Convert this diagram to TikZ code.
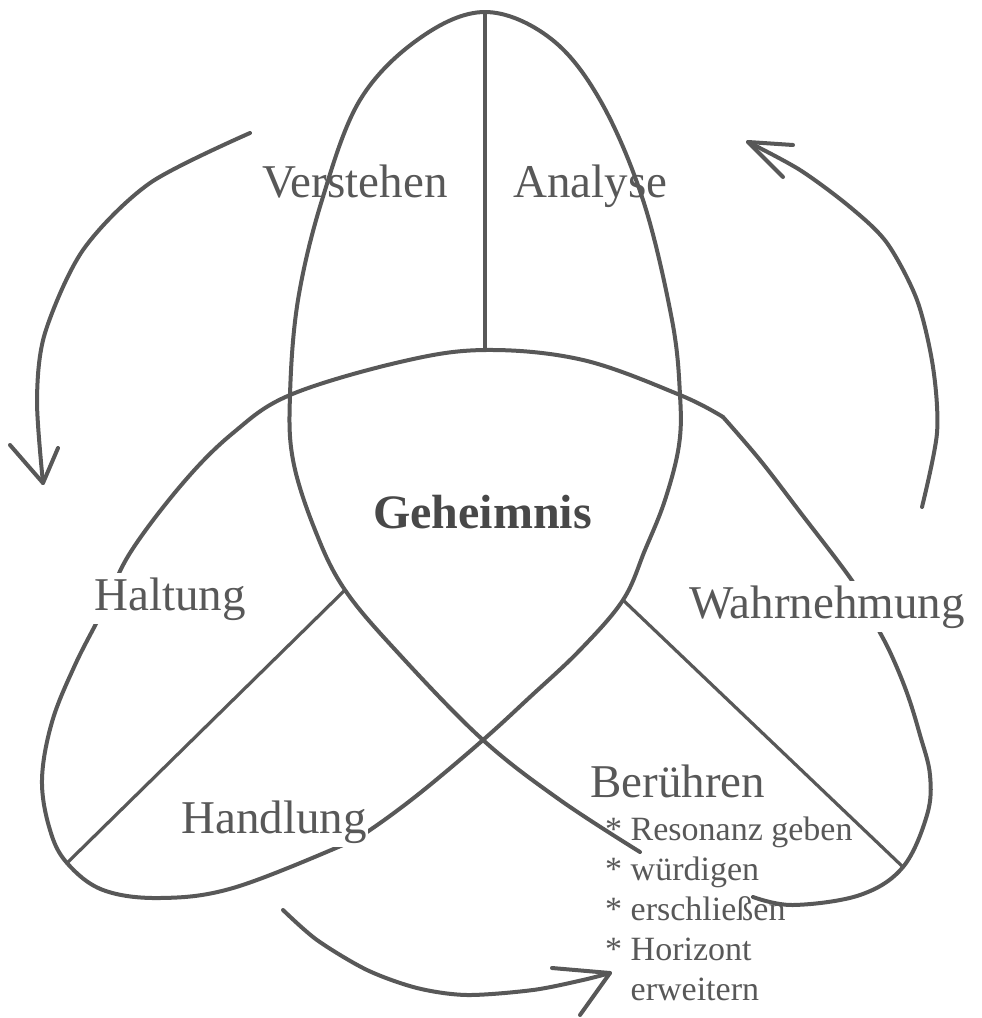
\documentclass[tikz,border=0pt]{standalone}
\usepackage{fontspec}
\setmainfont{Liberation Serif}
\definecolor{ink}{RGB}{88,88,88}
\definecolor{txt}{RGB}{88,88,88}
\definecolor{txtdark}{RGB}{72,72,72}
\begin{document}
\begin{tikzpicture}[x=1pt,y=-1pt,
  curve/.style={draw=ink,line width=4pt,line cap=round,line join=round},
  divider/.style={draw=ink,line width=3.2pt,line cap=round},
  arrowline/.style={draw=ink,line width=4pt,line cap=round,line join=round},
  lab/.style={text=txt,font=\fontsize{47}{56}\selectfont,inner sep=0pt,anchor=base west},
  gaplab/.style={lab,fill=white,inner xsep=1pt,inner ysep=4pt},
  listlab/.style={text=txt,font=\fontsize{34}{40}\selectfont,inner sep=0pt,anchor=base west}
]
\useasboundingbox (0,0) rectangle (982,1018);
% key points of the knot
\coordinate (top) at (485,12);
\coordinate (topin) at (485,350);
\coordinate (lin) at (345,590);
\coordinate (lout) at (67,863);
\coordinate (rin) at (623,600);
\coordinate (rout) at (903,867);
\coordinate (kink) at (723,417);
\coordinate (endA) at (753,897);
\coordinate (endB) at (640,852);
\coordinate (xl) at (290,395);
\coordinate (xr) at (680,395);
\coordinate (xb) at (483,740);
% knot curve
\draw[curve] plot[smooth,tension=0.6] coordinates {(endA) (793,905) (860,895) (rout) (927,815) (930,775) (920,735) (907,693) (890,652) (872,618) (853,582) (800,512) (760,460) (kink)};
\draw[curve] plot[smooth,tension=0.6] coordinates {(kink) (xr) (583,360) (topin) (400,362) (xl) (233,433) (183,483) (130,553) (103,610) (75,665) (52,722) (42,780) (50,830) (lout) (103,890) (160,898) (233,888) (343,845) (370,830) (420,793) (xb) (530,697) (580,650) (rin) (645,550) (665,500) (679,445) (xr) (672,320) (643,200) (600,100) (550,38) (top) (420,38) (360,100) (322,200) (298,300) (xl) (293,460) (315,530) (lin) (400,655) (xb) (560,800) (endB)};
% dividers
\draw[divider] (top) -- (topin);
\draw[divider] (lin) -- (lout);
\draw[divider] (rin) -- (rout);
% arrows
\coordinate (a1s) at (250,133);
\coordinate (a1t) at (43,483);
\coordinate (a1l) at (10,445);
\coordinate (a1r) at (58,448);
\draw[arrowline] plot[smooth] coordinates {(a1s) (150,183) (83,250) (45,333) (37,400) (a1t)};
\draw[arrowline] (a1l) -- (a1t) -- (a1r);
\coordinate (a2s) at (922,507);
\coordinate (a2t) at (748,142);
\coordinate (a2l) at (793,145);
\coordinate (a2r) at (783,177);
\draw[arrowline] plot[smooth] coordinates {(a2s) (937,433) (933,367) (917,300) (887,243) (850,207) (800,170) (a2t)};
\draw[arrowline] (a2l) -- (a2t) -- (a2r);
\coordinate (a3s) at (283,910);
\coordinate (a3t) at (610,973);
\coordinate (a3l) at (552,968);
\coordinate (a3r) at (580,1015);
\draw[arrowline] plot[smooth] coordinates {(a3s) (317,940) (367,970) (417,988) (467,995) (533,990) (583,980) (a3t)};
\draw[arrowline] (a3l) -- (a3t) -- (a3r);
% labels
\node[lab] (verstehen) at (262,197) {Verstehen};
\node[lab] (analyse) at (513,197) {Analyse};
\node[lab,text=txtdark,font=\bfseries\fontsize{48}{56}\selectfont] (geheimnis) at (373,528) {Geheimnis};
\node[gaplab] (haltung) at (93,610) {Haltung};
\node[gaplab] (handlung) at (180,833) {Handlung};
\node[gaplab] (wahr) at (688,618) {Wahrnehmung};
\node[lab] (beruehren) at (590,797) {Berühren};
\node[listlab] (liste) at (605,840) {\begin{tabular}[t]{@{}l@{\ }l@{}}{*}&Resonanz geben\\{*}&würdigen\\{*}&erschließen\\{*}&Horizont\\&erweitern\end{tabular}};
\end{tikzpicture}
\end{document}
